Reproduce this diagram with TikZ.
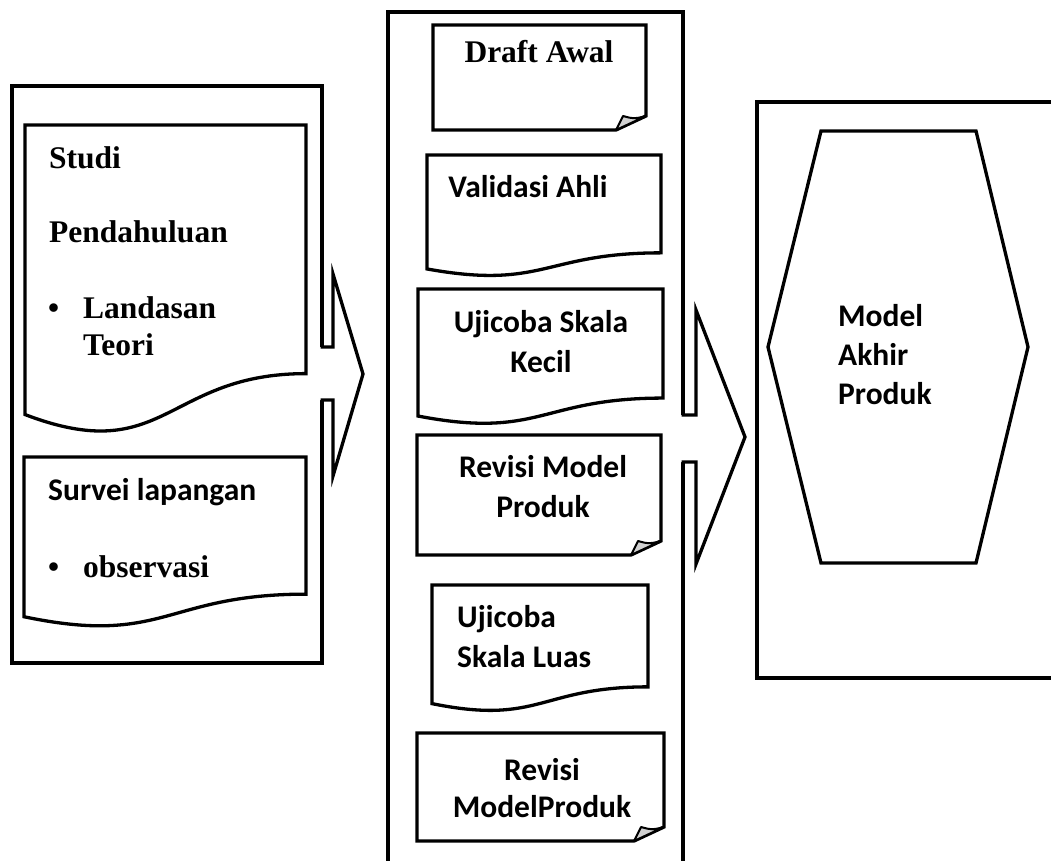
\documentclass[tikz,border=0pt]{standalone}
\usepackage{fontspec}
\setmainfont{Liberation Serif}
\newfontfamily\calibri{Carlito}

\tikzset{
  garis/.style={line width=3.3pt, line join=miter},
  teksserif/.style={inner sep=0pt, font=\bfseries\fontsize{31.5}{37}\selectfont},
  tekssans/.style={inner sep=0pt, font=\calibri\bfseries\fontsize{31.5}{40}\selectfont},
}

% dokumen dengan tepi bawah bergelombang: x, y, lebar, tinggi
\newcommand{\dokumen}[4]{%
  \draw[garis] (#1,#2) -- ({#1+#3},#2) -- ({#1+#3},{#2+0.802*#4})
    .. controls ({#1+0.5*#3},{#2+0.802*#4}) and ({#1+0.5*#3},{#2+1.107*#4}) ..
    (#1,{#2+0.934*#4}) -- cycle;}
% dokumen dengan sudut terlipat: x, y, lebar, tinggi
\newcommand{\lipatan}[4]{%
  \draw[garis] (#1,#2) -- ({#1+#3},#2) -- ({#1+#3},{#2+#4-14})
    -- ({#1+#3-30},{#2+#4}) -- (#1,{#2+#4}) -- cycle;
  \draw[line width=2pt, line join=round, fill=gray!35] ({#1+#3-30},{#2+#4})
    -- ({#1+#3-23},{#2+#4-14}) .. controls ({#1+#3-12},{#2+#4-11}) .. ({#1+#3},{#2+#4-14}) -- cycle;}

\begin{document}
\begin{tikzpicture}[x=1pt,y=-1pt]
        \useasboundingbox (0,0) rectangle (1051,861);
        \clip (0,0) rectangle (1051,861);
        % Kotak luar
        \draw[garis] (12,86) rectangle (322,663);
        \draw[garis] (388,12) rectangle (683,880);
        \draw[garis] (757,102) rectangle (1070,678);
        % Kotak kiri
        \dokumen{25}{125}{281}{310}
        \dokumen{24}{457}{282}{171}
        % Kotak tengah
        \lipatan{433}{25}{213}{105}
        \dokumen{427}{155}{234}{122}
        \dokumen{418}{289}{245}{136}
        \lipatan{417}{435}{244}{120}
        \dokumen{432}{585}{216}{127}
        \lipatan{417}{733}{247}{108}
        % Heksagon kanan
        \draw[garis] (821,131) -- (976,131) -- (1028,347) -- (976,563) -- (821,563) -- (768,347) -- cycle;
        % Panah kiri
        \fill[white] (318,347) -- (333,347) -- (333,274) -- (363,374) -- (333,476) -- (333,400) -- (318,400) -- cycle;
        \draw[garis] (320.5,347) -- (333,347) -- (333,274) -- (363,374) -- (333,476) -- (333,400) -- (320.5,400);
        % Panah kanan
        \fill[white] (679,415) -- (696,415) -- (696,310) -- (745,437) -- (696,564) -- (696,462) -- (679,462) -- cycle;
        \draw[garis] (681.5,415) -- (696,415) -- (696,310) -- (745,437) -- (696,564) -- (696,462) -- (681.5,462);
        % Teks (titik base = baris terakhir)
        \node[teksserif, anchor=base west, align=left] (studi) at (49,242) {Studi\\[37pt]Pendahuluan};
        \node[teksserif, anchor=base west, align=left] (landasan) at (48,355) {\makebox[35pt][l]{\textbullet}Landasan\\\hspace*{35pt}Teori};
        \node[tekssans, anchor=base west] (survei) at (48,500) {Survei lapangan};
        \node[teksserif, anchor=base west] (observasi) at (48,577) {\makebox[35pt][l]{\textbullet}observasi};
        \node[teksserif, anchor=base] (draft) at (539,63) {Draft Awal};
        \node[tekssans, anchor=base] (validasi) at (528,197) {Validasi Ahli};
        \node[tekssans, anchor=base, align=center] (ujikecil) at (541,372) {Ujicoba Skala\\Kecil};
        \node[tekssans, anchor=base, align=center] (revisi1) at (543,517) {Revisi Model\\Produk};
        \node[tekssans, anchor=base west, align=left] (ujiluas) at (457,667) {Ujicoba\\Skala Luas};
        \node[tekssans, anchor=base, align=center] (revisi2) at (542,817) {Revisi\\[-3pt]ModelProduk};
        \node[tekssans, anchor=base west, align=left] (model) at (838,404) {Model\\[-1pt]Akhir\\[-1pt]Produk};
    \end{tikzpicture}
\end{document}
